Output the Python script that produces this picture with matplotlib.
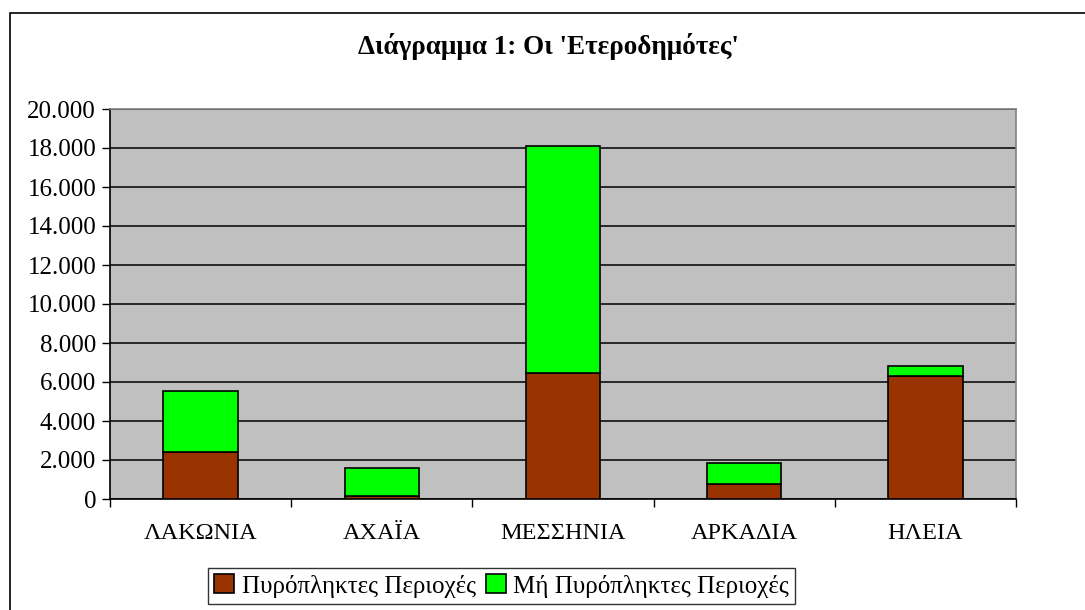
import matplotlib.pyplot as plt
from matplotlib.patches import Rectangle
from matplotlib.ticker import FuncFormatter
import numpy as np

plt.rcParams['font.family'] = ['Liberation Serif', 'DejaVu Serif']

regions = ["ΛΑΚΩΝΙΑ", "ΑΧΑΪΑ", "ΜΕΣΣΗΝΙΑ", "ΑΡΚΑΔΙΑ", "ΗΛΕΙΑ"]
fire_hit = [2430, 140, 6470, 750, 6320]
not_fire_hit = [3120, 1450, 11650, 1095, 515]

W, H = 1085, 610
fig = plt.figure(figsize=(W / 100, H / 100), dpi=100)

# outer chart frame (runs off the right/bottom edge)
fig.patches.append(Rectangle((10 / W, -0.1), 1.2, (H - 13) / H + 0.1,
                             transform=fig.transFigure, fill=False,
                             edgecolor="black", linewidth=1.2))

ax = fig.add_axes([110 / W, (H - 499) / H, (1016 - 110) / W, (499 - 109) / H])
ax.set_facecolor("#C0C0C0")

x = np.arange(len(regions))
ax.bar(x, fire_hit, width=0.41, color="#993300", edgecolor="black",
       linewidth=1.2, label="Πυρόπληκτες Περιοχές", zorder=3)
ax.bar(x, not_fire_hit, width=0.41, bottom=fire_hit, color="#00FF00",
       edgecolor="black", linewidth=1.2, label="Μή Πυρόπληκτες Περιοχές", zorder=3)

ax.set_xlim(-0.5, len(regions) - 0.5)
ax.set_ylim(0, 20000)
ax.set_yticks(range(0, 20001, 2000))
ax.yaxis.set_major_formatter(FuncFormatter(lambda v, p: f"{int(v):,}".replace(",", ".")))
ax.yaxis.grid(True, color="black", linewidth=1.1, zorder=1)

ax.set_xticks(x)
ax.set_xticklabels(regions)
ax.set_xticks(np.arange(-0.5, len(regions)), minor=True)
ax.tick_params(axis="x", which="major", length=0, pad=17, labelsize=17.5)
ax.tick_params(axis="x", which="minor", length=6, direction="out", width=1)
ax.tick_params(axis="y", length=6, direction="out", width=1, labelsize=18, pad=4)

for s in ["top", "right"]:
    ax.spines[s].set_color("#808080")
    ax.spines[s].set_linewidth(1.2)
for s in ["left", "bottom"]:
    ax.spines[s].set_color("black")
    ax.spines[s].set_linewidth(1.2)

fig.text(548 / W, (H - 46) / H, "Διάγραμμα 1: Οι 'Ετεροδημότες'",
         ha="center", va="center", fontsize=19.5, fontweight="bold")

leg = fig.legend(loc="upper left", bbox_to_anchor=(208 / W, (H - 568) / H),
                 ncol=2, fontsize=18, frameon=True, fancybox=False,
                 edgecolor="black", handlelength=0.8, handleheight=0.8,
                 handletextpad=0.3, columnspacing=0.4, borderpad=0.25,
                 borderaxespad=0)
leg.get_frame().set_linewidth(1)

fig.savefig("out.png", dpi=100)
